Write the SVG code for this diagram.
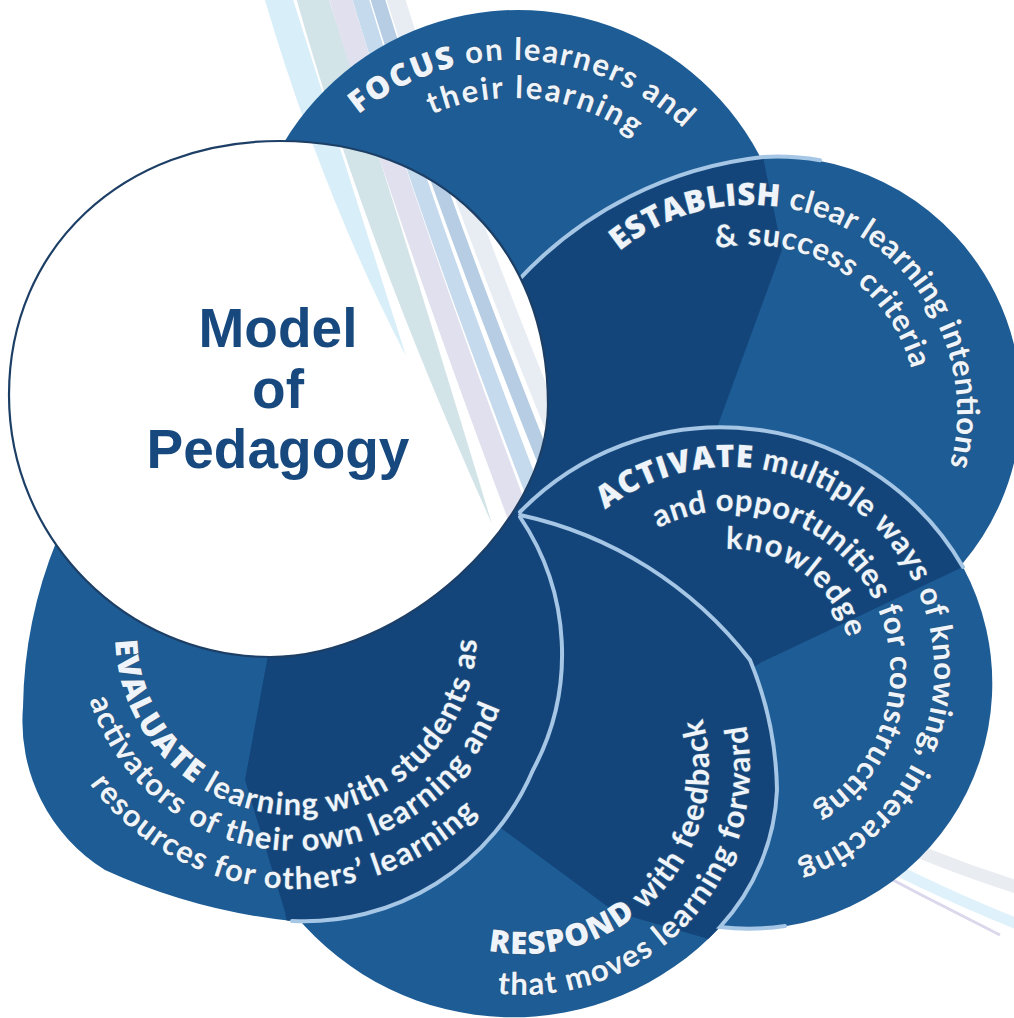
<svg xmlns="http://www.w3.org/2000/svg" width="1014" height="1018" viewBox="0 0 1014 1018">
<style>
.lt{fill:#1d5c95}
.dk{fill:#14457a}
.edge{fill:none;stroke:#a6c6e6;stroke-width:4;stroke-linecap:round}
.band{fill:none;stroke-linecap:butt}
.t{font-family:Lato,'Open Sans',sans-serif;font-weight:700;font-size:31px;fill:#eef4fa;stroke:#2c5780;stroke-width:1.6px;paint-order:stroke fill;stroke-linejoin:round}
.k{font-family:'Open Sans',Lato,sans-serif;font-weight:800}
.title{font-family:'Liberation Sans',Arial,sans-serif;font-weight:700;font-size:55px;fill:#17497f;text-anchor:middle}
</style>
<defs>
<path id="shE" d="M 518,280.6 A 393 393 0 0 1 763,157 A 247 247 0 0 1 963,563 L 760,660 L 540,560 L 500,480 L 480,300 Z"/>
<path id="shA" d="M 520,512 A 280 280 0 0 1 963,567 A 246 246 0 0 1 720,928 L 640,800 L 540,560 Z"/>
<path id="shR" d="M 520,515 A 396 396 0 0 1 750,660 A 354 354 0 0 1 777,790 A 215 215 0 0 1 720,927 A 283 283 0 0 1 295,915 L 330,760 L 500,600 Z"/>
<path id="shV" d="M 520,517 A 245 245 0 0 1 533,770 A 248 248 0 0 1 292,921 A 600 600 0 0 1 105,870 A 175 175 0 0 1 23,707 A 458 458 0 0 1 57,540 L 200,470 L 480,470 Z"/>
<path id="shW" d="M 280,141 C 440.8,141 548,246.6 548,405 C 548,525 402,657 270,657 C 126.4,657 9,539 9,395 C 9,247.7 122.8,141 280,141 Z"/>
<clipPath id="cE"><use href="#shE"/></clipPath>
<clipPath id="cA"><use href="#shA"/></clipPath>
<clipPath id="cR"><use href="#shR"/></clipPath>
<clipPath id="cV"><use href="#shV"/></clipPath>
<clipPath id="cW"><use href="#shW"/></clipPath>
<g id="bandset">
<path fill="#d8eef8" d="M 262,-10 L 290,-10 Q 350,180 406,356 Q 320,190 262,-10 Z"/>
<path fill="#d3e4e8" d="M 294,-10 L 326,-10 Q 400,220 492,524 Q 360,230 294,-10 Z"/>
<path class="band" stroke="#e0e0ee" stroke-width="22" d="M 338,-10 Q 400,200 520,520"/>
<path class="band" stroke="#c6daed" stroke-width="16" d="M 358,-10 Q 420,200 540,510"/>
<path class="band" stroke="#b6cde3" stroke-width="14" d="M 375,-10 Q 435,190 560,500"/>
<path class="band" stroke="#e8edf3" stroke-width="18" d="M 393,-10 Q 455,190 580,490"/>
</g>
<path id="pF1" d="M 358.5,114.6 A 246 246 0 0 1 686,131"/>
<path id="pF2" d="M 431.7,114.5 A 208 208 0 0 1 637,139"/>
<path id="pE1" d="M 619.4,251.4 A 207 207 0 0 1 948.8,469.8"/>
<path id="pE2" d="M 716.1,248.5 A 167 167 0 0 1 912.5,373.3"/>
<path id="pA1" d="M 605.3,509.6 A 204 204 0 1 1 793.4,864.9"/>
<path id="pA2" d="M 658.1,528.1 A 160 160 0 0 1 808.8,810.3"/>
<path id="pA3" d="M 726,549.1 A 122 122 0 0 1 851,655.1"/>
<path id="pR1" d="M 488.1,950.7 A 186 186 0 0 0 701.2,714.5"/>
<path id="pR2" d="M 497.3,993.5 A 227 227 0 0 0 745.3,722"/>
<path id="pV1" d="M 115.1,640 A 181 181 0 0 0 477,635.9"/>
<path id="pV2" d="M 89.3,700 A 217 217 0 0 0 501.3,704.3"/>
<path id="pV3" d="M 89.7,783.9 A 255 255 0 0 0 480.4,810.2"/>
</defs>

<g id="background-bands">
<use href="#bandset"/>
<path class="band" stroke="#e9ecf0" stroke-width="13" d="M 850,820 Q 930,860 1020,888"/>
<path class="band" stroke="#dff1fa" stroke-width="11" d="M 840,840 Q 920,885 1020,925"/>
<path class="band" stroke="#dcd8ec" stroke-width="3" d="M 840,852 Q 920,895 1000,935"/>
</g>

<g id="focus">
<circle class="lt" cx="518" cy="283" r="273"/>
</g>

<g id="establish">
<use href="#shE" class="lt"/>
<path class="dk" clip-path="url(#cE)" d="M 760,100 L 763,157 L 782,250 L 718,425 L 718,700 L 440,700 L 440,100 Z"/>
<path class="edge" d="M 518,280.6 A 393 393 0 0 1 763,157 A 247 247 0 0 1 820,160.3"/>
</g>

<g id="activate">
<use href="#shA" class="lt"/>
<path class="dk" clip-path="url(#cA)" d="M 1000,549.5 L 762,662 L 700,700 L 480,600 L 480,400 L 1000,400 Z"/>
<path class="edge" d="M 520,512 A 280 280 0 0 1 963,567"/>
</g>

<g id="respond">
<use href="#shR" class="lt"/>
<path class="dk" clip-path="url(#cR)" d="M 460,800 L 498,826 L 615,912 L 712,940 L 800,966 L 800,480 L 460,480 Z"/>
<path class="edge" d="M 520,515 A 396 396 0 0 1 750,660 A 354 354 0 0 1 777,790 A 215 215 0 0 1 720,927 A 246 246 0 0 0 785,926"/>
</g>

<g id="evaluate">
<use href="#shV" class="lt"/>
<path class="dk" clip-path="url(#cV)" d="M 272,400 L 268,655 L 245,780 L 285,912 L 290,940 L 600,940 L 600,400 Z"/>
<path class="edge" d="M 520,517 A 245 245 0 0 1 533,770 A 248 248 0 0 1 292,921"/>
</g>

<g id="model-of-pedagogy">
<use href="#shW" fill="#ffffff"/>
<g clip-path="url(#cW)"><use href="#bandset"/></g>
<use href="#shW" fill="none" stroke="#1d3f66" stroke-width="2.2"/>
<text class="title" x="278" y="347">Model</text>
<text class="title" x="278" y="408">of</text>
<text class="title" x="278" y="468">Pedagogy</text>
</g>

<g id="labels">
<text class="t"><textPath href="#pF1" textLength="355" lengthAdjust="spacing"><tspan class="k">FOCUS</tspan> on learners and</textPath></text>
<text class="t"><textPath href="#pF2" textLength="212" lengthAdjust="spacing">their learning</textPath></text>
<text class="t"><textPath href="#pE1" textLength="521" lengthAdjust="spacing"><tspan class="k">ESTABLISH</tspan> clear learning intentions</textPath></text>
<text class="t"><textPath href="#pE2" textLength="253" lengthAdjust="spacing">&amp; success criteria</textPath></text>
<text class="t"><textPath href="#pA1" textLength="706" lengthAdjust="spacing"><tspan class="k">ACTIVATE</tspan> multiple ways of knowing, interacting</textPath></text>
<text class="t"><textPath href="#pA2" textLength="490" lengthAdjust="spacing">and opportunities for constructing</textPath></text>
<text class="t"><textPath href="#pA3" textLength="162" lengthAdjust="spacing">knowledge</textPath></text>
<text class="t"><textPath href="#pR1" textLength="377" lengthAdjust="spacing"><tspan class="k">RESPOND</tspan> with feedback</textPath></text>
<text class="t"><textPath href="#pR2" textLength="425" lengthAdjust="spacing">that moves learning forward</textPath></text>
<text class="t"><textPath href="#pV1" textLength="557" lengthAdjust="spacing"><tspan class="k">EVALUATE</tspan> learning with students as</textPath></text>
<text class="t"><textPath href="#pV2" textLength="539" lengthAdjust="spacing">activators of their own learning and</textPath></text>
<text class="t"><textPath href="#pV3" textLength="442" lengthAdjust="spacing">resources for others’ learning</textPath></text>
</g>
</svg>
